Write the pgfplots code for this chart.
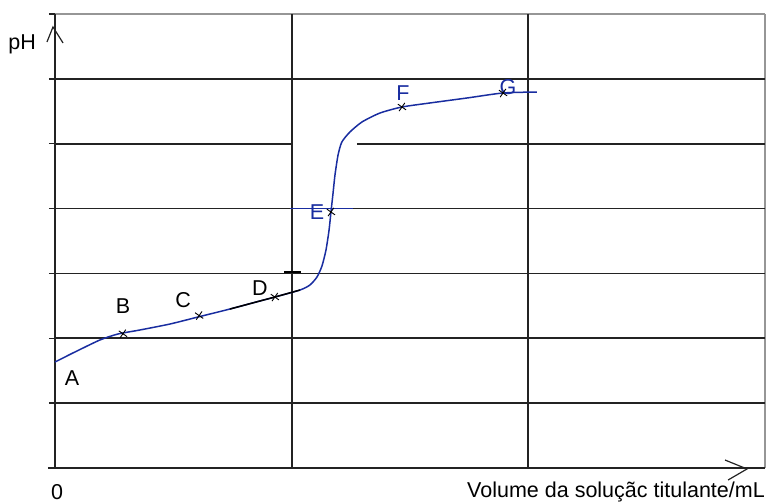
\documentclass[border=0pt]{standalone}
\usepackage{pgfplots}
\pgfplotsset{compat=1.18}
\usepackage{fontspec}
\setmainfont{Liberation Sans}
\definecolor{curveblue}{RGB}{25,45,160}
\definecolor{gridblack}{RGB}{35,35,35}
\definecolor{gridgray}{RGB}{150,150,150}
\begin{document}
\begin{tikzpicture}
\path[use as bounding box] (0,0) rectangle (767bp,504bp);
\begin{axis}[
 at={(55bp,36bp)}, anchor=south west,
 scale only axis, width=710bp, height=454bp,
 xmin=0,xmax=3,ymin=0,ymax=7,
 hide axis, clip=false,
 font=\fontsize{21.5bp}{25bp}\selectfont,
]
% grid
\draw[line width=1.7bp, gridgray] (axis cs:0,7) -- (axis cs:3,7);
\draw[line width=1.7bp, gridgray] (axis cs:3,0) -- (axis cs:3,7);
\pgfplotsinvokeforeach{1,2,3,4,6}{
  \draw[line width=1.7bp, gridblack] (axis cs:0,#1) -- (axis cs:3,#1);
}
\draw[line width=1.7bp, gridblack] (axis cs:0,5) -- (axis cs:1,5);
\draw[line width=1.7bp, gridblack] (axis cs:1.276,5) -- (axis cs:3,5);
\draw[line width=1.7bp, gridblack] (axis cs:-0.03,0) -- (axis cs:3,0);
\pgfplotsinvokeforeach{0,1,2}{
  \draw[line width=1.9bp, gridblack] (axis cs:#1,0) -- (axis cs:#1,7);
}
\pgfplotsinvokeforeach{0,1,2,3,4,5,6,7}{
  \draw[line width=1.5bp, gridblack] (axis cs:-0.026,#1) -- (axis cs:0,#1);
}
% axis arrows
\draw[line width=1.2bp, gridblack] (axis cs:-0.034,6.568) -- (axis cs:-0.0085,6.80) -- (axis cs:0.034,6.553);
\draw[line width=1.2bp, gridblack] (axis cs:2.831,0.123) -- (axis cs:2.924,-0.015) -- (axis cs:2.844,-0.185);
% E horizontal blue line
\draw[line width=1.4bp, curveblue] (axis cs:0.993,4.0) -- (axis cs:1.259,4.0);
% small black bar near D
\draw[line width=2bp, black] (axis cs:0.968,3.02) -- (axis cs:1.04,3.02);
% titration curve
\addplot[curveblue, line width=1.5bp, smooth, tension=0.4] coordinates {
(0,1.634) (0.0845,1.789) (0.190,1.974) (0.266,2.066) (0.359,2.128)
(0.486,2.220) (0.604,2.328) (0.739,2.451) (0.866,2.575) (0.929,2.636)
(1.035,2.744) (1.077,2.821) (1.107,2.945) (1.128,3.114) (1.145,3.361)
(1.158,3.669) (1.166,3.947) (1.174,4.209) (1.183,4.517) (1.196,4.826)
(1.212,5.026) (1.246,5.180) (1.297,5.335) (1.373,5.473) (1.466,5.566)
(1.584,5.628) (1.741,5.705) (1.893,5.782) (2.036,5.797)
};
\addplot[black, line width=1.5bp, smooth, tension=0.4] coordinates {
(0.739,2.451) (0.866,2.575) (0.929,2.636) (1.035,2.744)
};
% cross marks at B-G
\addplot[only marks, mark=x, mark size=5bp, black, mark options={line width=0.9bp, rotate=10}] coordinates {
(0.287,2.07) (0.609,2.35) (0.929,2.636) (1.166,3.947) (1.466,5.566) (1.893,5.782)
};
% point labels
\node[black] at (axis cs:0.072,1.388) {A};
\node[black] at (axis cs:0.287,2.498) {B};
\node[black] at (axis cs:0.541,2.59) {C};
\node[black] at (axis cs:0.866,2.775) {D};
\node[curveblue] at (axis cs:1.107,3.947) {E};
\node[curveblue] at (axis cs:1.470,5.782) {F};
\node[curveblue] at (axis cs:1.914,5.874) {G};
% axis labels
\node[black] at (axis cs:-0.139,6.537) {pH};
\node[black, inner sep=0pt] at (axis cs:0.0085,-0.37) {0};
\node[black, anchor=east, inner sep=0pt] at (axis cs:3.0,-0.37) {Volume da soluçãc titulante/mL};
\end{axis}
\end{tikzpicture}
\end{document}
